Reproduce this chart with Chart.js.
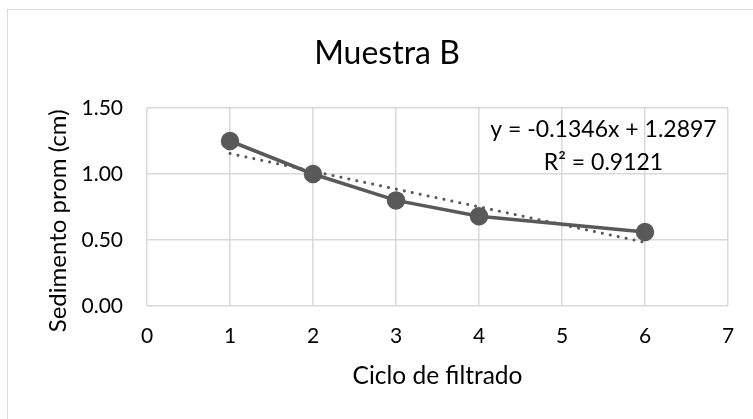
<!DOCTYPE html>
<html>
<head>
<meta charset="utf-8">
<script src="https://cdn.jsdelivr.net/npm/chart.js@4/dist/chart.umd.min.js"></script>
<style>
  html, body { margin: 0; padding: 0; background: #fff; overflow: hidden; }
  #wrap { position: absolute; left: 7px; top: 9px; width: 770px; height: 430px; border: 1px solid #d9d9d9; }
  canvas { display: block; }
</style>
</head>
<body>
<div id="wrap"><canvas id="chart" width="770" height="430"></canvas></div>
<script>
// data
const ciclos = [1, 2, 3, 4, 6];
const sedimento = [1.25, 1.00, 0.80, 0.68, 0.56];
// linear trendline end points (y = -0.1346x + 1.2897)
const trendX = [1, 6];
const trendY = [1.155, 0.482];
const trendText = ['y = -0.1346x + 1.2897', 'R\u00b2 = 0.9121'];
const yTitle = 'Sedimento prom (cm)';
const xTicks = [0, 7, 1];   // min, max, step
const yTicks = [0, 1.5, 0.5];

const gridColor = '#d9d9d9';
const lineColor = '#595959';
const fontFam = 'Lato, "Open Sans", sans-serif';

// trendline equation and the y axis title (Excel puts it a bit below centre)
const extraText = {
    id: 'extraText',
    afterDatasetsDraw(chart) {
        const {ctx, scales} = chart;
        const x = scales.x.getPixelForValue(5.5);
        ctx.save();
        ctx.fillStyle = '#000';
        ctx.font = '23px ' + fontFam;
        ctx.textAlign = 'center';
        ctx.textBaseline = 'middle';
        ctx.fillText(trendText[0], x, scales.y.getPixelForValue(1.333));
        ctx.fillText(trendText[1], x, scales.y.getPixelForValue(1.083));

        ctx.font = '24px ' + fontFam;
        ctx.translate(scales.y.left + 12, scales.y.getPixelForValue(0.645));
        ctx.rotate(-Math.PI / 2);
        ctx.fillText(yTitle, 0, 0);
        ctx.restore();
    }
};

new Chart(document.getElementById('chart'), {
    type: 'scatter',
    data: {
        datasets: [{
            data: ciclos.map((c, i) => ({x: c, y: sedimento[i]})),
            showLine: true,
            borderColor: lineColor,
            backgroundColor: lineColor,
            borderWidth: 3.5,
            pointRadius: 7.5,
            pointHoverRadius: 7.5,
            order: 2
        }, {
            data: trendX.map((c, i) => ({x: c, y: trendY[i]})),
            showLine: true,
            borderColor: lineColor,
            borderWidth: 3,
            borderDash: [0.1, 8],
            borderCapStyle: 'round',
            pointRadius: 0,
            order: 1
        }]
    },
    options: {
        responsive: false,
        animation: false,
        devicePixelRatio: 1,
        layout: { padding: { left: 38, right: 50, top: 0, bottom: 0 } },
        plugins: {
            legend: { display: false },
            tooltip: { enabled: false },
            title: {
                display: true,
                text: 'Muestra B',
                color: '#000',
                font: { family: fontFam, size: 32, weight: 'normal' },
                padding: { top: 24, bottom: 35.6 }
            }
        },
        scales: {
            x: {
                type: 'linear',
                min: xTicks[0], max: xTicks[1],
                ticks: { stepSize: xTicks[2], padding: 18, color: '#000', font: { family: fontFam, size: 21 } },
                grid: { color: gridColor, lineWidth: 1.5, drawTicks: false },
                border: { display: false },
                title: {
                    display: true, text: 'Ciclo de filtrado', color: '#000',
                    font: { family: fontFam, size: 24.5 },
                    padding: { top: 0, bottom: 49.3 }
                },
                afterFit(scale) { scale.height = 134; }
            },
            y: {
                min: yTicks[0], max: yTicks[1],
                ticks: {
                    stepSize: yTicks[2], padding: 24, color: '#000',
                    font: { family: fontFam, size: 21 },
                    callback: v => v.toFixed(2)
                },
                grid: { color: gridColor, lineWidth: 1.5, drawTicks: false },
                border: { display: false },
                afterFit(scale) { scale.width = 101; }
            }
        }
    },
    plugins: [extraText]
});
</script>
</body>
</html>
